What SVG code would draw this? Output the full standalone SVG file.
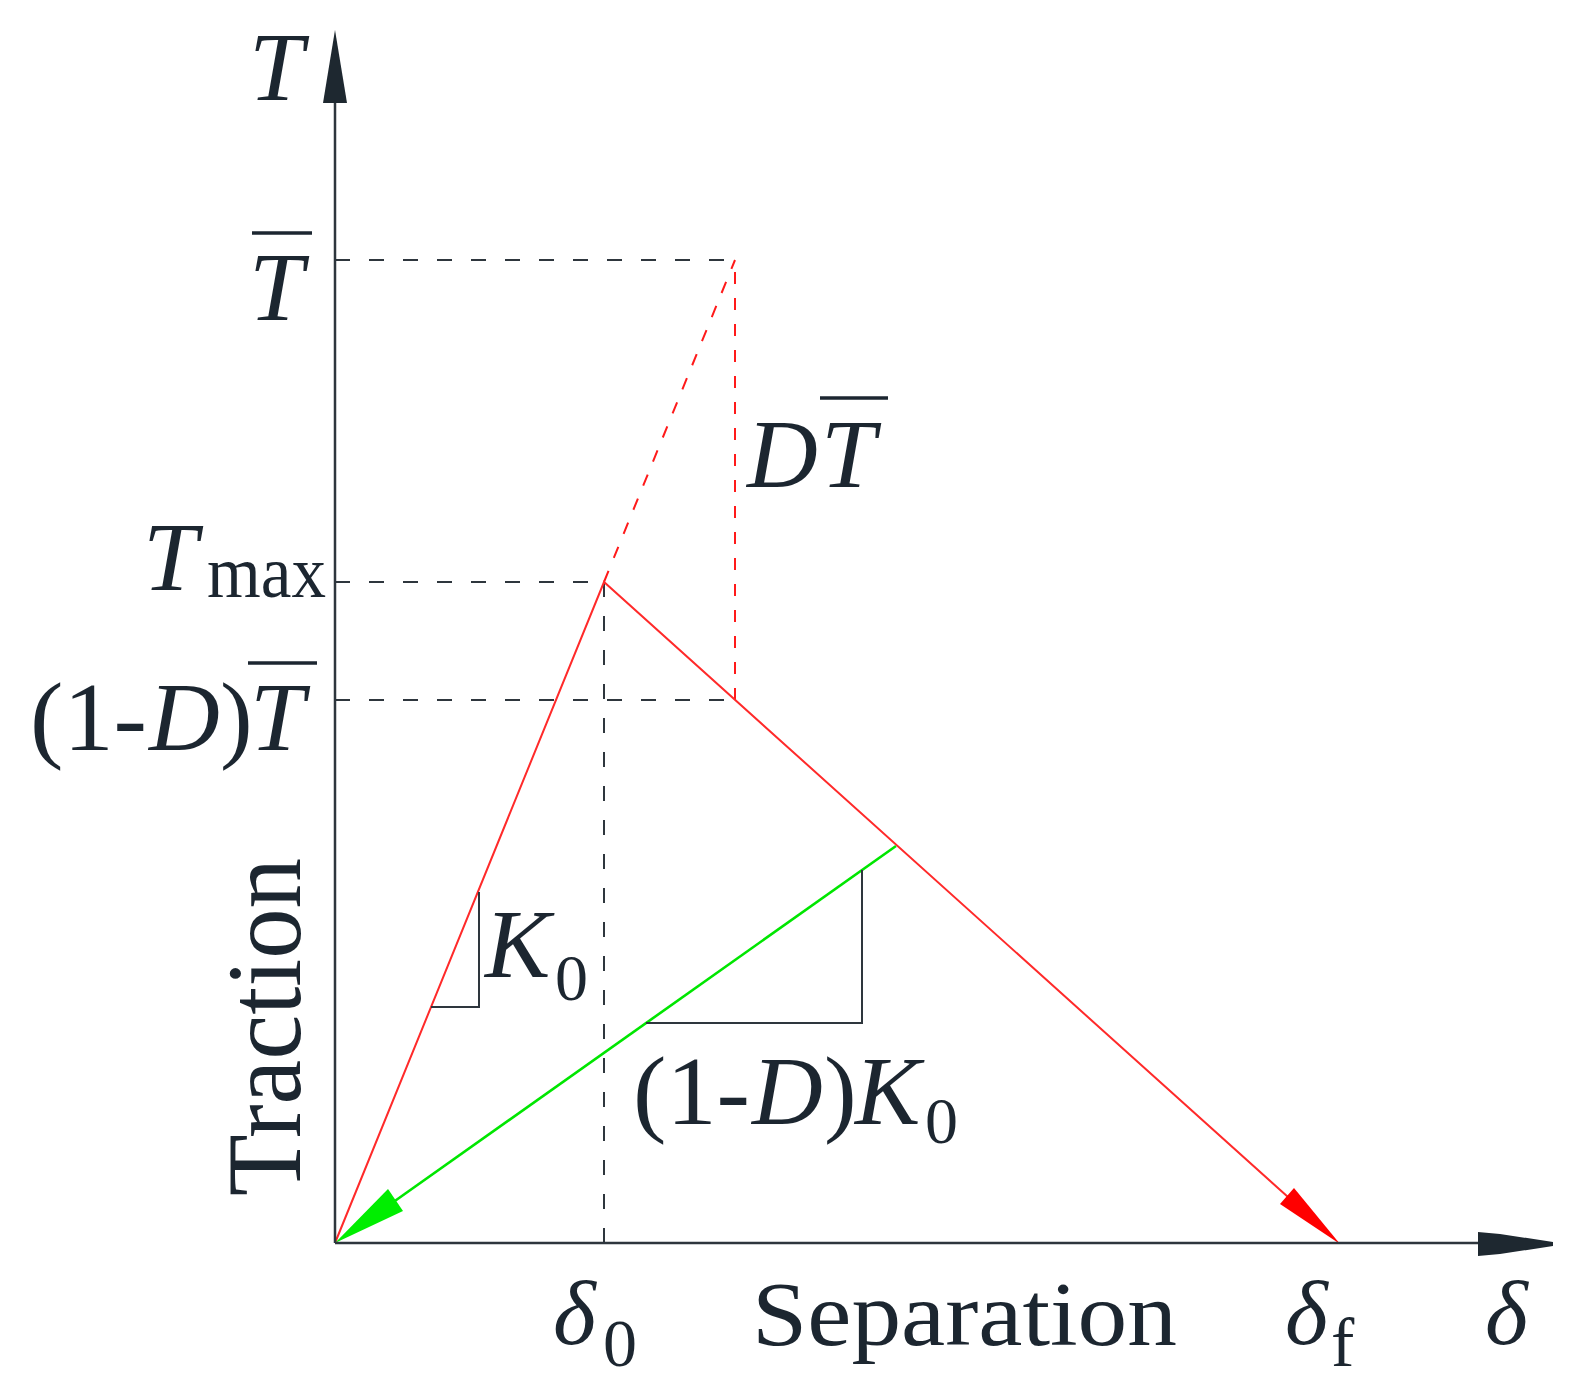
<svg xmlns="http://www.w3.org/2000/svg" width="1582" height="1392" viewBox="0 0 1582 1392">
  <style>
    .t { font-family: "Liberation Serif", "Times New Roman", serif; fill: #1c2630; font-size: 98px; }
    .i { font-style: italic; }
    .sub { font-size: 66px; }
    .axis { stroke: #2e363d; stroke-width: 2.5; fill: none; }
    .dash { stroke: #2e363d; stroke-width: 2; stroke-dasharray: 15 19; fill: none; }
    .rdash { stroke: #ff1a1a; stroke-width: 2; stroke-dasharray: 12 14; fill: none; }
    .red { stroke: #ff2a2a; stroke-width: 2; fill: none; }
    .green { stroke: #00e600; stroke-width: 2.6; fill: none; }
    .tri { stroke: #2e363d; stroke-width: 2; fill: none; }
    .bar { stroke: #1c2630; stroke-width: 3.5; }
  </style>
  <rect width="1582" height="1392" fill="#ffffff"/>

  <g id="connectors">
    <!-- guide dashed lines -->
    <line class="dash" x1="335" y1="260" x2="735" y2="260"/>
    <line class="dash" x1="335" y1="582" x2="604" y2="582"/>
    <line class="dash" x1="335" y1="700" x2="735" y2="700"/>
    <line class="dash" x1="604" y1="582" x2="604" y2="1243"/>
    <!-- red dashed extension -->
    <line class="rdash" x1="604" y1="582" x2="735" y2="260"/>
    <line class="rdash" x1="735" y1="700" x2="735" y2="260"/>
    <!-- red traction-separation law -->
    <polyline class="red" points="335,1243 604,582 1288,1197"/>
    <polygon fill="#ff0000" points="1340,1244 1280,1204 1294,1188"/>
    <!-- green unloading -->
    <line class="green" x1="896" y1="846" x2="392" y2="1203"/>
    <polygon fill="#00ee00" points="335,1243 388,1189 403,1211"/>
    <!-- slope triangles -->
    <polyline class="tri" points="479,892 479,1007 431,1007"/>
    <polyline class="tri" points="862,870 862,1023 646,1023"/>
    <!-- axes -->
    <line class="axis" x1="335" y1="1243" x2="335" y2="100"/>
    <line class="axis" x1="335" y1="1243" x2="1480" y2="1243"/>
    <polygon fill="#1e2830" points="335,30 347,103 323,103"/>
    <polygon fill="#1e2830" points="1478,1232 1500,1234 1553,1242 1553,1246 1500,1254 1478,1256"/>
  </g>

  <g id="label-T-axis"><text class="t i" x="249" y="100">T</text></g>

  <g id="label-Tbar">
    <text class="t i" x="249" y="320">T</text>
    <line class="bar" x1="252" y1="233" x2="312" y2="233"/>
  </g>

  <g id="label-Tmax">
    <text class="t i" x="143" y="590">T</text>
    <text class="t" x="207" y="597" style="font-size:74px" textLength="119" lengthAdjust="spacingAndGlyphs">max</text>
  </g>

  <g id="label-1-D-Tbar">
    <text class="t" x="30" y="750" textLength="117" lengthAdjust="spacingAndGlyphs">(1-</text>
    <text class="t i" x="149" y="750">D</text>
    <text class="t" x="220" y="750">)</text>
    <text class="t i" x="250" y="750">T</text>
    <line class="bar" x1="248" y1="663" x2="317" y2="663"/>
  </g>

  <g id="label-DTbar">
    <text class="t i" x="747" y="487">D</text>
    <text class="t i" x="821" y="487">T</text>
    <line class="bar" x1="820" y1="398" x2="888" y2="398"/>
  </g>

  <g id="label-K0">
    <text class="t i" x="485" y="977">K</text>
    <text class="t sub" x="555" y="1000">0</text>
  </g>

  <g id="label-1-D-K0">
    <text class="t" x="633" y="1124" textLength="117" lengthAdjust="spacingAndGlyphs">(1-</text>
    <text class="t i" x="752" y="1124">D</text>
    <text class="t" x="824" y="1124">)</text>
    <text class="t i" x="855" y="1124">K</text>
    <text class="t sub" x="925" y="1143">0</text>
  </g>

  <g id="label-delta0">
    <text class="t i" x="553" y="1344" style="font-size:92px">δ</text>
    <text class="t sub" x="603" y="1366" style="font-size:68px">0</text>
  </g>

  <g id="label-separation">
    <text class="t" x="752" y="1345" style="font-size:90px" textLength="425" lengthAdjust="spacingAndGlyphs">Separation</text>
  </g>

  <g id="label-deltaf">
    <text class="t i" x="1285" y="1344" style="font-size:92px">δ</text>
    <text class="t" x="1331" y="1366" style="font-size:70px">f</text>
  </g>

  <g id="label-delta-axis">
    <text class="t i" x="1485" y="1344" style="font-size:92px">δ</text>
  </g>

  <g id="label-traction">
    <text class="t" transform="translate(300,1196) rotate(-90)" style="font-size:106px" textLength="338" lengthAdjust="spacingAndGlyphs">Traction</text>
  </g>
</svg>
